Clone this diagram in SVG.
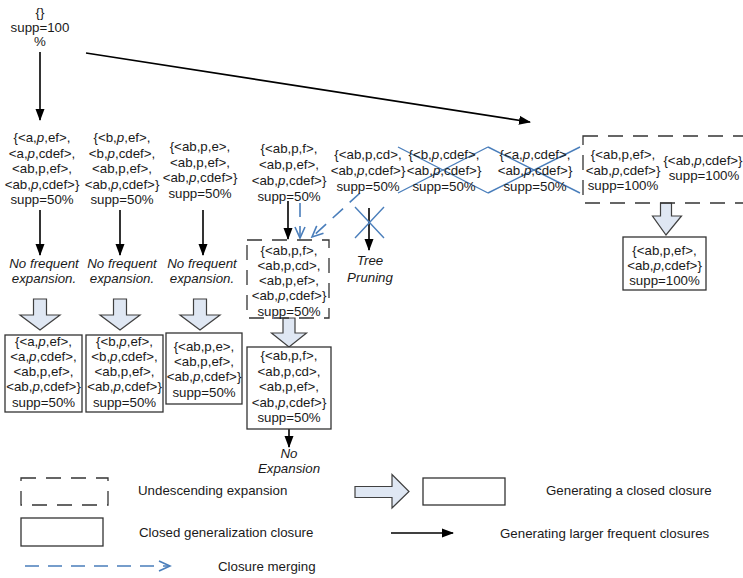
<svg xmlns="http://www.w3.org/2000/svg" width="743" height="578" viewBox="0 0 743 578">
<defs>
<style>
.t{font-family:"Liberation Sans",Arial,sans-serif;font-size:13.3px;fill:#1a1a1a;text-anchor:middle}
.l{font-family:"Liberation Sans",Arial,sans-serif;font-size:13.3px;fill:#1a1a1a}
.i{font-style:italic}
.box{fill:#fff;stroke:#333;stroke-width:1.3}
.dbox{fill:none;stroke:#333;stroke-width:1.3;stroke-dasharray:15,10}
.blk{fill:#dfe7f3;stroke:#404040;stroke-width:1.2}
.arr{stroke:#000;stroke-width:1.6;fill:none;marker-end:url(#ah)}
.mrg{stroke:#4a7ebb;stroke-width:1.6;fill:none;stroke-dasharray:14,9;marker-end:url(#bh)}
.x{stroke:#4a7ebb;stroke-width:1.4;fill:none}
</style>
<marker id="ah" markerWidth="12" markerHeight="10" refX="11" refY="5" orient="auto" markerUnits="userSpaceOnUse"><path d="M0,0.5 L12,5 L0,9.5 z" fill="#000"/></marker>
<marker id="bh" markerWidth="14" markerHeight="12" refX="12" refY="6" orient="auto" markerUnits="userSpaceOnUse"><path d="M1,1 L12,6 L1,11" fill="none" stroke="#4a7ebb" stroke-width="1.6"/></marker>
</defs>
<rect width="743" height="578" fill="#fff"/>

<g id="connectors">
<line class="arr" x1="40" y1="52" x2="40" y2="120"/>
<line class="arr" x1="86" y1="53" x2="530" y2="122"/>
<line class="arr" x1="40" y1="210" x2="40" y2="255"/>
<line class="arr" x1="120" y1="210" x2="120" y2="255"/>
<line class="arr" x1="203" y1="210" x2="203" y2="255"/>
<line class="arr" x1="288" y1="201" x2="288" y2="239"/>
<line class="mrg" x1="300" y1="203" x2="300" y2="238"/>
<line class="mrg" x1="360" y1="193" x2="312" y2="237"/>
<line class="arr" x1="369" y1="208" x2="369" y2="250"/>
<line class="arr" x1="289" y1="429" x2="289" y2="447"/>
<path class="x" d="M355,207 L384,238 M384,207 L355,238"/>
<path class="x" d="M398,147 L488,193 M398,193 L488,147"/>
<path class="x" d="M488,147 L580,193 M488,193 L580,147"/>
<polygon class="blk" points="33.5,299 46.5,299 46.5,315 60,315 40,330 20,315 33.5,315"/>
<polygon class="blk" points="113.5,299 126.5,299 126.5,315 140,315 120,330 100,315 113.5,315"/>
<polygon class="blk" points="193.5,299 206.5,299 206.5,315 220,315 200,330 180,315 193.5,315"/>
<polygon class="blk" points="283,318 295,318 295,333 306.5,333 289,347 271.5,333 283,333"/>
<polygon class="blk" points="660.5,203 671.5,203 671.5,216 681.5,216 666,235 652.5,216 660.5,216"/>
</g>

<g id="root">
<text class="t" x="40" y="17">{}</text>
<text class="t" x="40" y="31.5">supp=100</text>
<text class="t" x="40" y="46">%</text>
</g>

<g id="n1">
<text class="t" x="42" y="142">{&lt;a,<tspan class="i">p</tspan>,ef&gt;,</text>
<text class="t" x="42" y="157.5">&lt;a,<tspan class="i">p</tspan>,cdef&gt;,</text>
<text class="t" x="42" y="173">&lt;ab,p,ef&gt;,</text>
<text class="t" x="42" y="188.5">&lt;ab,<tspan class="i">p</tspan>,cdef&gt;}</text>
<text class="t" x="42" y="204">supp=50%</text>
</g>
<g id="n2">
<text class="t" x="122" y="142">{&lt;b,<tspan class="i">p</tspan>,ef&gt;,</text>
<text class="t" x="122" y="157.5">&lt;b,<tspan class="i">p</tspan>,cdef&gt;,</text>
<text class="t" x="122" y="173">&lt;ab,p,ef&gt;,</text>
<text class="t" x="122" y="188.5">&lt;ab,<tspan class="i">p</tspan>,cdef&gt;}</text>
<text class="t" x="122" y="204">supp=50%</text>
</g>
<g id="n3">
<text class="t" x="200" y="151">{&lt;ab,p,e&gt;,</text>
<text class="t" x="200" y="166.5">&lt;ab,p,ef&gt;,</text>
<text class="t" x="200" y="182">&lt;ab,<tspan class="i">p</tspan>,cdef&gt;}</text>
<text class="t" x="200" y="198">supp=50%</text>
</g>
<g id="n4">
<text class="t" x="289" y="152.5">{&lt;ab,p,f&gt;,</text>
<text class="t" x="289" y="168.5">&lt;ab,p,ef&gt;,</text>
<text class="t" x="289" y="184.5">&lt;ab,<tspan class="i">p</tspan>,cdef&gt;}</text>
<text class="t" x="289" y="200.5">supp=50%</text>
</g>
<g id="n5">
<text class="t" x="368" y="158.5">{&lt;ab,p,cd&gt;,</text>
<text class="t" x="368" y="174.5">&lt;ab,<tspan class="i">p</tspan>,cdef&gt;}</text>
<text class="t" x="368" y="190.5">supp=50%</text>
</g>
<g id="n6">
<text class="t" x="444" y="158.5">{&lt;b,<tspan class="i">p</tspan>,cdef&gt;,</text>
<text class="t" x="444" y="174.5">&lt;ab,<tspan class="i">p</tspan>,cdef&gt;}</text>
<text class="t" x="444" y="190.5">supp=50%</text>
</g>
<g id="n7">
<text class="t" x="535" y="158.5">{&lt;a,<tspan class="i">p</tspan>,cdef&gt;,</text>
<text class="t" x="535" y="174.5">&lt;ab,<tspan class="i">p</tspan>,cdef&gt;}</text>
<text class="t" x="535" y="190.5">supp=50%</text>
</g>
<g id="n8">
<rect class="dbox" x="583" y="136" width="200" height="67"/>
<text class="t" x="623" y="158.5">{&lt;ab,p,ef&gt;,</text>
<text class="t" x="623" y="174.5">&lt;ab,<tspan class="i">p</tspan>,cdef&gt;}</text>
<text class="t" x="623" y="190">supp=100%</text>
<text class="t" x="703" y="164.5">{&lt;ab,<tspan class="i">p</tspan>,cdef&gt;}</text>
<text class="t" x="704" y="180">supp=100%</text>
</g>
<g id="r8">
<rect class="box" x="623" y="237" width="83" height="53"/>
<text class="t" x="664.5" y="254.5">{&lt;ab,p,ef&gt;,</text>
<text class="t" x="664.5" y="269.5">&lt;ab,<tspan class="i">p</tspan>,cdef&gt;}</text>
<text class="t" x="664.5" y="285">supp=100%</text>
</g>

<g id="nf1"><text class="t i" x="44" y="267.5">No frequent</text><text class="t i" x="44" y="283">expansion.</text></g>
<g id="nf2"><text class="t i" x="122" y="267.5">No frequent</text><text class="t i" x="122" y="283">expansion.</text></g>
<g id="nf3"><text class="t i" x="202" y="267.5">No frequent</text><text class="t i" x="202" y="283">expansion.</text></g>
<g id="prune"><text class="t i" x="370" y="264.5">Tree</text><text class="t i" x="370" y="281.5">Pruning</text></g>

<g id="m4">
<rect class="dbox" x="247" y="240" width="82" height="78"/>
<text class="t" x="289" y="254.5">{&lt;ab,p,f&gt;,</text>
<text class="t" x="289" y="269.5">&lt;ab,p,cd&gt;,</text>
<text class="t" x="289" y="284.5">&lt;ab,p,ef&gt;,</text>
<text class="t" x="289" y="300">&lt;ab,<tspan class="i">p</tspan>,cdef&gt;}</text>
<text class="t" x="289" y="316">supp=50%</text>
</g>
<g id="c4">
<rect class="box" x="247" y="347" width="84" height="82"/>
<text class="t" x="289" y="360">{&lt;ab,p,f&gt;,</text>
<text class="t" x="289" y="375.5">&lt;ab,p,cd&gt;,</text>
<text class="t" x="289" y="391">&lt;ab,p,ef&gt;,</text>
<text class="t" x="289" y="406.5">&lt;ab,<tspan class="i">p</tspan>,cdef&gt;}</text>
<text class="t" x="289" y="422">supp=50%</text>
</g>
<g id="noexp"><text class="t i" x="289" y="457.5">No</text><text class="t i" x="289" y="472.5">Expansion</text></g>

<g id="c1">
<rect class="box" x="5" y="335" width="77" height="77"/>
<text class="t" x="43.5" y="346">{&lt;a,<tspan class="i">p</tspan>,ef&gt;,</text>
<text class="t" x="43.5" y="361">&lt;a,<tspan class="i">p</tspan>,cdef&gt;,</text>
<text class="t" x="43.5" y="376">&lt;ab,p,ef&gt;,</text>
<text class="t" x="43.5" y="391">&lt;ab,<tspan class="i">p</tspan>,cdef&gt;}</text>
<text class="t" x="43.5" y="406.5">supp=50%</text>
</g>
<g id="c2">
<rect class="box" x="86" y="335" width="77" height="77"/>
<text class="t" x="124.5" y="346">{&lt;b,<tspan class="i">p</tspan>,ef&gt;,</text>
<text class="t" x="124.5" y="361">&lt;b,<tspan class="i">p</tspan>,cdef&gt;,</text>
<text class="t" x="124.5" y="376">&lt;ab,p,ef&gt;,</text>
<text class="t" x="124.5" y="391">&lt;ab,<tspan class="i">p</tspan>,cdef&gt;}</text>
<text class="t" x="124.5" y="406.5">supp=50%</text>
</g>
<g id="c3">
<rect class="box" x="166" y="333" width="76" height="71"/>
<text class="t" x="204" y="351">{&lt;ab,p,e&gt;,</text>
<text class="t" x="204" y="366">&lt;ab,p,ef&gt;,</text>
<text class="t" x="204" y="381">&lt;ab,<tspan class="i">p</tspan>,cdef&gt;}</text>
<text class="t" x="204" y="397">supp=50%</text>
</g>

<g id="legend">
<rect class="dbox" x="21" y="478" width="87" height="27"/>
<text class="l" x="138" y="494.5">Undescending expansion</text>
<rect class="box" x="21" y="518" width="82" height="28"/>
<text class="l" x="139" y="536.5">Closed generalization closure</text>
<line class="mrg" x1="25" y1="566" x2="170" y2="566"/>
<text class="l" x="218" y="570.5">Closure merging</text>
<polygon class="blk" points="355,486.5 392,486.5 392,474.5 409,491.5 392,508 392,497.5 355,497.5"/>
<rect class="box" x="423" y="478" width="82" height="27"/>
<text class="l" x="546" y="494.5">Generating a closed closure</text>
<line class="arr" x1="391" y1="533" x2="453" y2="533"/>
<text class="l" x="500" y="537.5">Generating larger frequent closures</text>
</g>
</svg>
